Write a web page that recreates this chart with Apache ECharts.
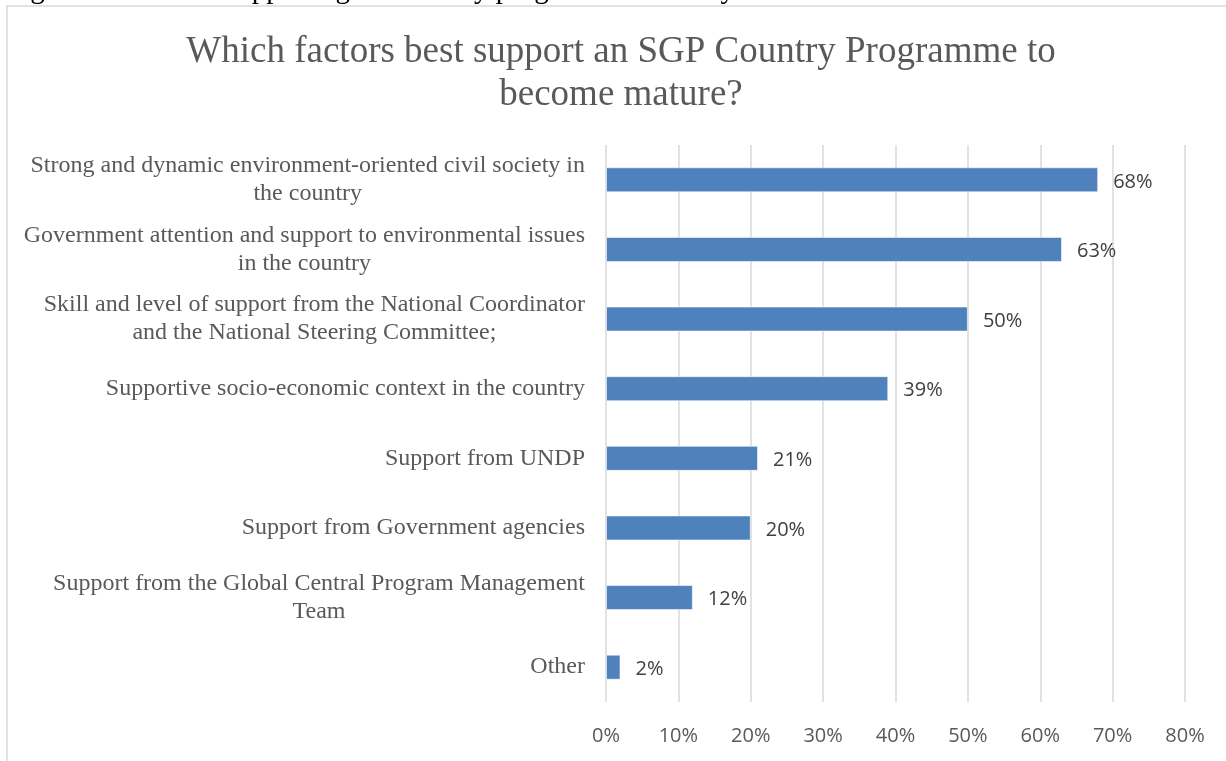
<!DOCTYPE html>
<html>
<head>
<meta charset="utf-8">
<script src="https://cdn.jsdelivr.net/npm/echarts@6/dist/echarts.min.js"></script>
<style>
html,body{margin:0;padding:0;background:#fff;}
#chart{width:1226px;height:761px;}
</style>
</head>
<body>
<div id="chart"></div>
<script>
var chartTitle = 'Which factors best support an SGP Country Programme to\nbecome mature?';
var captionText = 'Figure 10: Factors supporting the country programme maturity';
var categories = [
  'Strong and dynamic environment-oriented civil society in\nthe country',
  'Government attention and support to environmental issues\nin the country',
  'Skill and level of support from the National Coordinator\nand the National Steering Committee;',
  'Supportive socio-economic context in the country',
  'Support from UNDP',
  'Support from Government agencies',
  'Support from the Global Central Program Management\nTeam',
  'Other'
];
var values = [68, 63, 50, 39, 21, 20, 12, 2];
var axisMin = 0, axisMax = 80, axisStep = 10;

var chart = echarts.init(document.getElementById('chart'));
var serif = '"Liberation Serif", "Times New Roman", serif';
var sans = '"Open Sans", "Noto Sans", sans-serif';

chart.setOption({
  animation: false,
  backgroundColor: '#ffffff',
  title: {
    text: chartTitle,
    left: 621,
    textAlign: 'center',
    top: 31,
    padding: 0,
    textStyle: {
      fontFamily: serif,
      fontSize: 37,
      fontWeight: 'normal',
      color: '#595959',
      lineHeight: 43
    }
  },
  graphic: [
    {
      type: 'rect',
      shape: { x: 7, y: 6, width: 1260, height: 800 },
      style: { fill: 'none', stroke: '#d9d9d9', lineWidth: 1.5 },
      silent: true
    },
    {
      type: 'text',
      x: 6,
      y: -10,
      style: {
        text: captionText,
        fontFamily: serif,
        fontSize: 29,
        fill: '#000000',
        verticalAlign: 'middle',
        align: 'left'
      },
      silent: true
    }
  ],
  grid: {
    left: 606,
    right: 41,
    top: 145,
    bottom: 59,
    containLabel: false
  },
  xAxis: {
    type: 'value',
    min: axisMin,
    max: axisMax,
    interval: axisStep,
    axisLine: { show: false },
    axisTick: { show: false },
    splitLine: { show: true, lineStyle: { color: '#d9d9d9', width: 1.5 } },
    axisLabel: {
      formatter: function (v) { return v + '%'; },
      fontFamily: sans,
      fontSize: 20,
      color: '#595959',
      margin: 24
    }
  },
  yAxis: {
    type: 'category',
    inverse: true,
    data: categories,
    axisLine: { show: false },
    axisTick: { show: false },
    axisLabel: {
      margin: 21,
      align: 'right',
      formatter: function (v) {
        return v.split('\n').map(function (l) { return '{c|' + l + '}'; }).join('\n');
      },
      rich: {
        c: {
          align: 'center',
          fontFamily: serif,
          fontSize: 24,
          lineHeight: 28,
          color: '#595959'
        }
      }
    }
  },
  series: [{
    type: 'bar',
    data: values,
    barWidth: 25,
    itemStyle: {
      color: '#4f81bd',
      borderColor: 'rgba(255,255,255,0.55)',
      borderWidth: 1
    },
    label: {
      show: true,
      position: 'right',
      distance: 15,
      offset: [0, 2],
      formatter: function (p) { return p.value + '%'; },
      fontFamily: sans,
      fontSize: 20,
      color: '#404040'
    }
  }]
});
</script>
</body>
</html>
